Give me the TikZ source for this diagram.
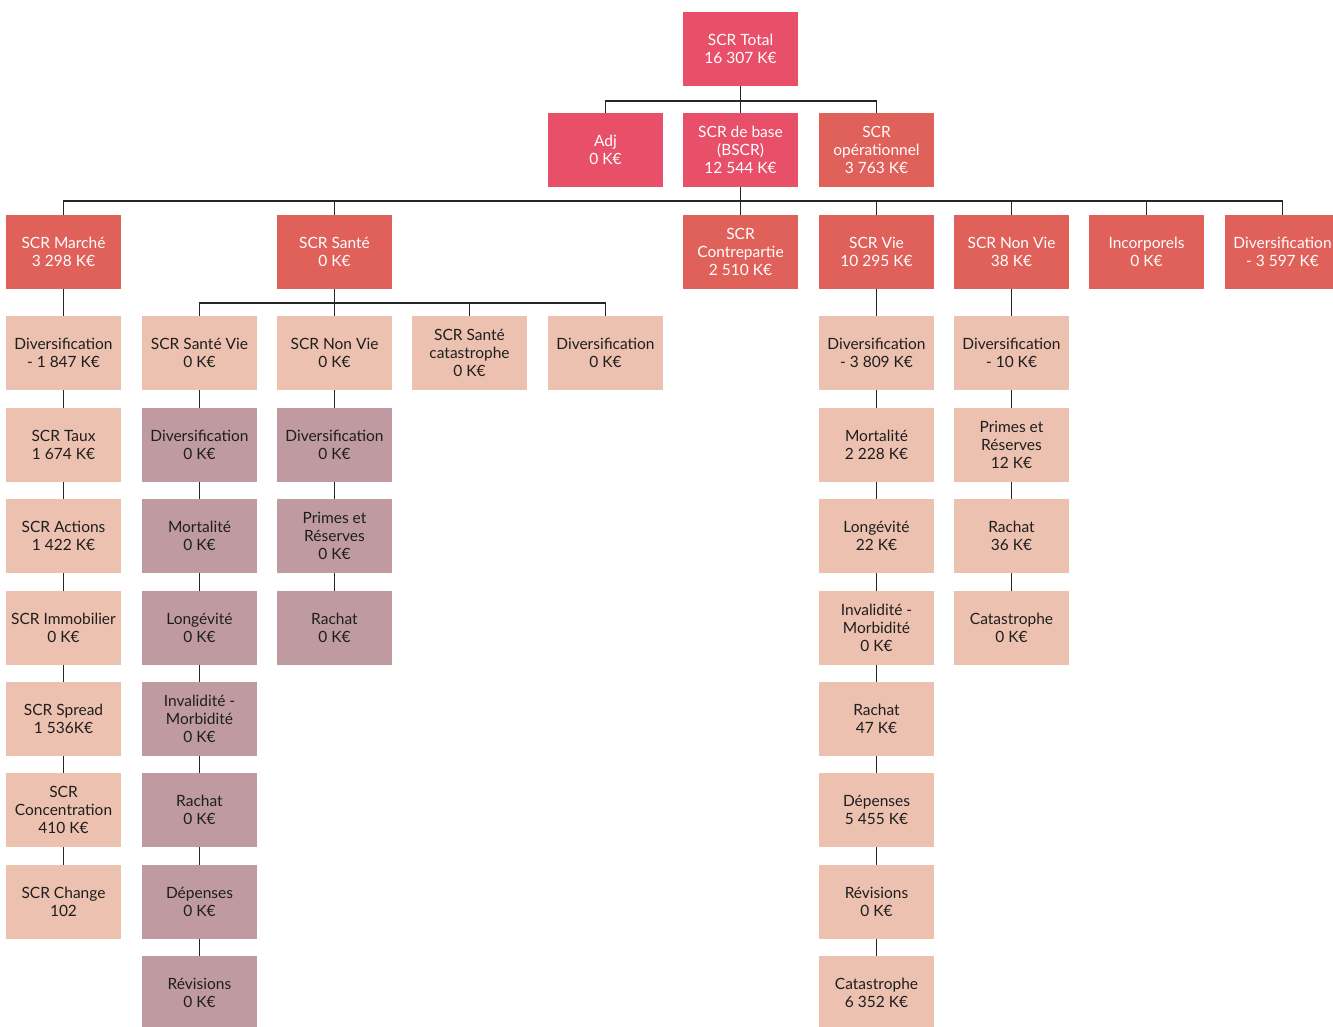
\documentclass[tikz,border=0pt]{standalone}
\usepackage{fontspec}
\setmainfont{Lato}
\definecolor{topc}{HTML}{E8506A}
\definecolor{midc}{HTML}{E0605A}
\definecolor{lightc}{HTML}{EDC1B0}
\definecolor{mauvec}{HTML}{BF9AA0}
\definecolor{txtd}{HTML}{1E1E1E}
\tikzset{
  box/.style={rectangle, minimum width=115pt, minimum height=74pt, inner sep=0pt, align=center,
    font=\fontsize{15.5pt}{18pt}\selectfont},
  tp/.style={box, fill=topc, text=white},
  md/.style={box, fill=midc, text=white},
  lt/.style={box, fill=lightc, text=txtd},
  mv/.style={box, fill=mauvec, text=txtd},
  link/.style={draw=black!85, line width=1.3pt}
}
\begin{document}
\begin{tikzpicture}[x=1pt,y=-1pt]
\useasboundingbox (0,0) rectangle (1333,1026);
% row 0-1
\node[tp] (tot) at (740.5,49) {SCR Total\\16 307 K€};
\node[tp] (adj) at (605.5,150) {Adj\\0 K€};
\node[tp] (bscr) at (740.5,150) {SCR de base\\(BSCR)\\12 544 K€};
\node[md] (op) at (876.5,150) {SCR\\opérationnel\\3 763 K€};
% row 2
\node[md] (mar) at (63.5,252) {SCR Marché\\3 298 K€};
\node[md] (san) at (334.5,252) {SCR Santé\\0 K€};
\node[md] (cp) at (740.5,252) {SCR\\Contrepartie\\2 510 K€};
\node[md] (vie) at (876.5,252) {SCR Vie\\10 295 K€};
\node[md] (nv) at (1011.5,252) {SCR Non Vie\\38 K€};
\node[md] (inc) at (1146.5,252) {Incorporels\\0 K€};
\node[md] (div) at (1282.5,252) {Diversification\\- 3 597 K€};
% Marche column
\node[lt] (m1) at (63.5,353) {Diversification\\- 1 847 K€};
\node[lt] (m2) at (63.5,445) {SCR Taux\\1 674 K€};
\node[lt] (m3) at (63.5,536) {SCR Actions\\1 422 K€};
\node[lt] (m4) at (63.5,628) {SCR Immobilier\\0 K€};
\node[lt] (m5) at (63.5,719) {SCR Spread\\1 536K€};
\node[lt] (m6) at (63.5,810) {SCR\\Concentration\\410 K€};
\node[lt] (m7) at (63.5,902) {SCR Change\\102};
% Sante children
\node[lt] (sv) at (199.5,353) {SCR Santé Vie\\0 K€};
\node[lt] (snv) at (334.5,353) {SCR Non Vie\\0 K€};
\node[lt] (scat) at (469.5,353) {SCR Santé\\catastrophe\\0 K€};
\node[lt] (sdiv) at (605.5,353) {Diversification\\0 K€};
% Sante Vie column
\node[mv] (a1) at (199.5,445) {Diversification\\0 K€};
\node[mv] (a2) at (199.5,536) {Mortalité\\0 K€};
\node[mv] (a3) at (199.5,628) {Longévité\\0 K€};
\node[mv] (a4) at (199.5,719) {Invalidité -\\Morbidité\\0 K€};
\node[mv] (a5) at (199.5,810) {Rachat\\0 K€};
\node[mv] (a6) at (199.5,902) {Dépenses\\0 K€};
\node[mv] (a7) at (199.5,993) {Révisions\\0 K€};
% Sante Non Vie column
\node[mv] (b1) at (334.5,445) {Diversification\\0 K€};
\node[mv] (b2) at (334.5,536) {Primes et\\Réserves\\0 K€};
\node[mv] (b3) at (334.5,628) {Rachat\\0 K€};
% Vie column
\node[lt] (v1) at (876.5,353) {Diversification\\- 3 809 K€};
\node[lt] (v2) at (876.5,445) {Mortalité\\2 228 K€};
\node[lt] (v3) at (876.5,536) {Longévité\\22 K€};
\node[lt] (v4) at (876.5,628) {Invalidité -\\Morbidité\\0 K€};
\node[lt] (v5) at (876.5,719) {Rachat\\47 K€};
\node[lt] (v6) at (876.5,810) {Dépenses\\5 455 K€};
\node[lt] (v7) at (876.5,902) {Révisions\\0 K€};
\node[lt] (v8) at (876.5,993) {Catastrophe\\6 352 K€};
% Non Vie column
\node[lt] (n1) at (1011.5,353) {Diversification\\- 10 K€};
\node[lt] (n2) at (1011.5,445) {Primes et\\Réserves\\12 K€};
\node[lt] (n3) at (1011.5,536) {Rachat\\36 K€};
\node[lt] (n4) at (1011.5,628) {Catastrophe\\0 K€};
% connectors
\coordinate (j0) at (740.5,101);
\draw[link] (tot.south) -- (bscr.north);
\draw[link] (adj.north) |- (j0) -| (op.north);
\coordinate (j1) at (740.5,201);
\draw[link] (bscr.south) -- (cp.north);
\draw[link] (mar.north) |- (j1) -| (div.north);
\foreach \n in {san,vie,nv,inc} \draw[link] (\n.north) |- (j1);
\coordinate (j2) at (334.5,303);
\draw[link] (san.south) -- (snv.north);
\draw[link] (sv.north) |- (j2) -| (sdiv.north);
\draw[link] (scat.north) |- (j2);
\foreach \a/\b in {mar/m1,m1/m2,m2/m3,m3/m4,m4/m5,m5/m6,m6/m7,
  sv/a1,a1/a2,a2/a3,a3/a4,a4/a5,a5/a6,a6/a7,
  snv/b1,b1/b2,b2/b3,
  vie/v1,v1/v2,v2/v3,v3/v4,v4/v5,v5/v6,v6/v7,v7/v8,
  nv/n1,n1/n2,n2/n3,n3/n4}
  \draw[link] (\a.south) -- (\b.north);
\end{tikzpicture}
\end{document}
